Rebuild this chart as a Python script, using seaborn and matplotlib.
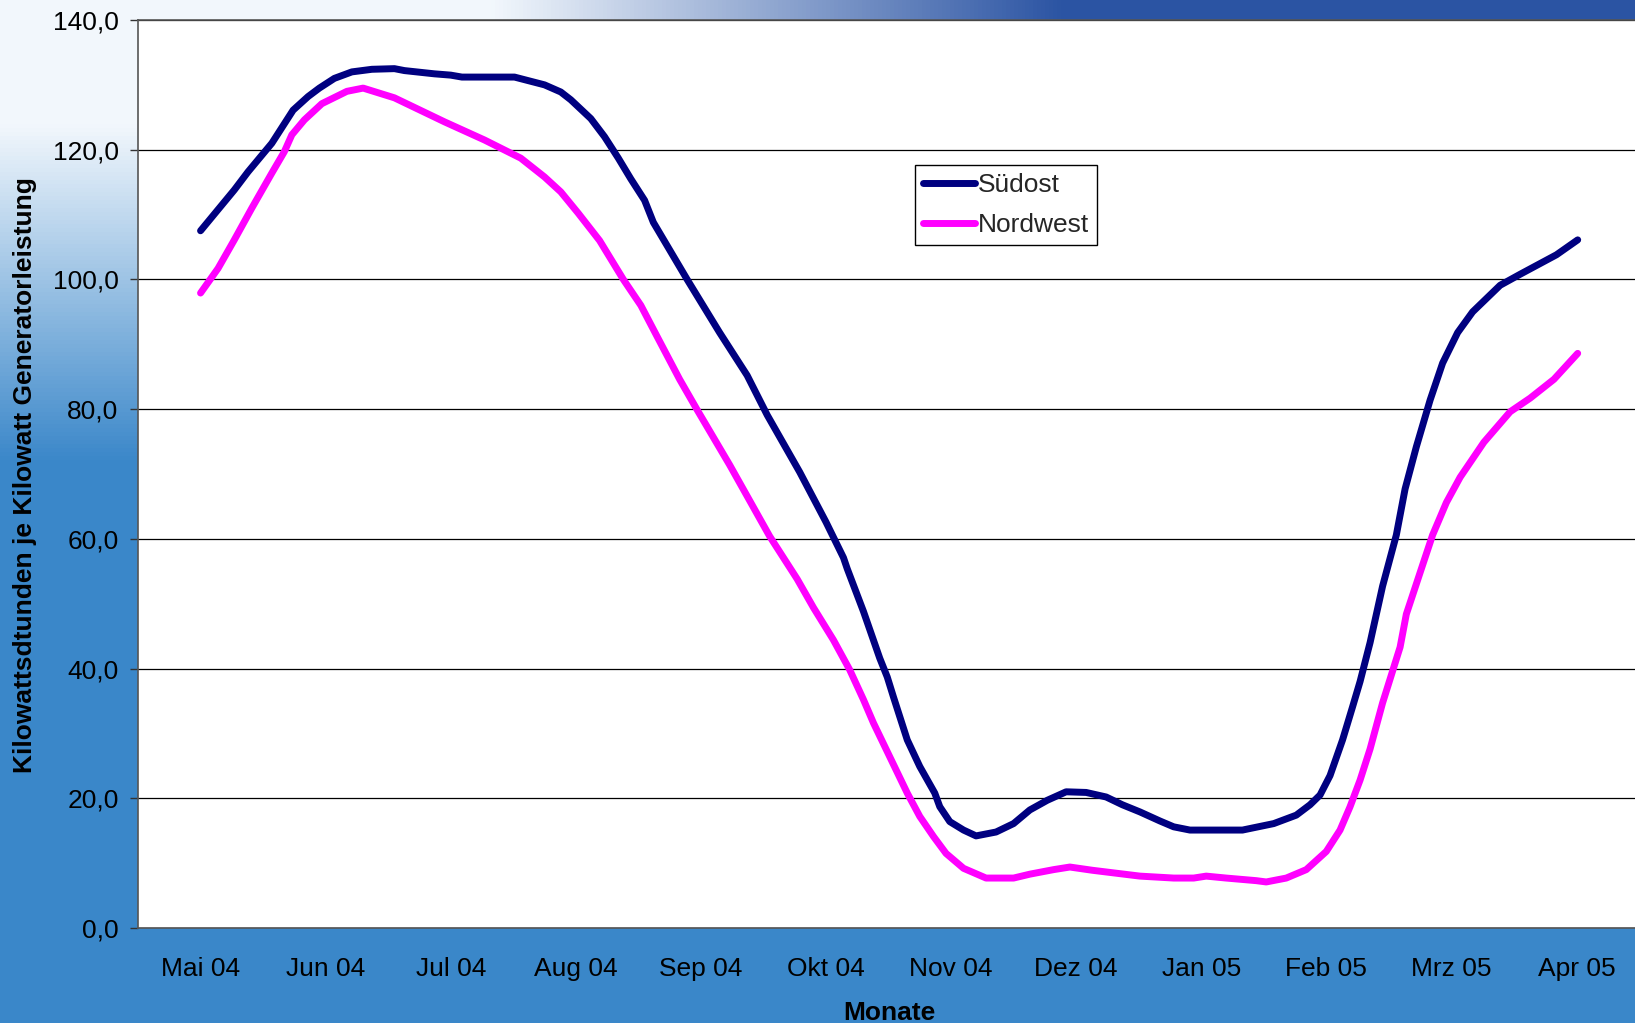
import numpy as np
import pandas as pd
import matplotlib
matplotlib.use("Agg")
import matplotlib.pyplot as plt
import seaborn as sns

# ---------------- data ----------------
monate = ["Mai 04", "Jun 04", "Jul 04", "Aug 04", "Sep 04", "Okt 04",
          "Nov 04", "Dez 04", "Jan 05", "Feb 05", "Mrz 05", "Apr 05"]

# position in months (0 = Mai 04 centre)
suedost_x = [0.0, 0.27, 0.38, 0.57, 0.74, 0.86, 0.95, 1.07, 1.21, 1.37, 1.55, 1.63,
             1.87, 2.0, 2.09, 2.51, 2.75, 2.88, 2.96, 3.12, 3.23, 3.34, 3.44, 3.55,
             3.62, 3.89, 4.15, 4.37, 4.53, 4.79, 5.0, 5.14, 5.17, 5.30, 5.43, 5.49,
             5.54, 5.65, 5.75, 5.87, 5.91, 5.99, 6.1, 6.2, 6.36, 6.5, 6.63, 6.77,
             6.92, 7.08, 7.24, 7.37, 7.51, 7.67, 7.78, 7.91, 8.33, 8.58, 8.76, 8.87,
             8.95, 9.03, 9.13, 9.21, 9.27, 9.35, 9.45, 9.56, 9.63, 9.72, 9.83, 9.93,
             10.05, 10.17, 10.39, 10.55, 10.84, 11.01]
suedost_y = [107.5, 113.8, 116.6, 121.0, 126.1, 128.2, 129.5, 131.0, 132.0, 132.4, 132.5, 132.2,
             131.7, 131.5, 131.2, 131.2, 130.0, 128.9, 127.7, 124.8, 122.0, 118.7, 115.5, 112.2,
             108.8, 100.0, 91.8, 85.2, 79.1, 70.3, 62.6, 57.1, 55.4, 48.8, 41.6, 38.7,
             35.6, 29.0, 24.9, 20.8, 18.7, 16.4, 15.1, 14.2, 14.8, 16.1, 18.2, 19.7,
             21.0, 20.9, 20.2, 19.0, 17.9, 16.5, 15.6, 15.1, 15.1, 16.1, 17.4, 19.0,
             20.5, 23.5, 29.0, 34.1, 38.0, 44.0, 52.7, 60.6, 67.7, 74.2, 81.4, 87.1,
             91.8, 95.0, 99.1, 100.8, 103.8, 106.1]

nordwest_x = [0.0, 0.14, 0.27, 0.41, 0.57, 0.67, 0.73, 0.83, 0.97, 1.17, 1.3, 1.55,
              1.95, 2.27, 2.56, 2.75, 2.88, 3.02, 3.19, 3.38, 3.52, 3.65, 3.83, 3.97,
              4.23, 4.55, 4.77, 4.9, 5.06, 5.19, 5.3, 5.38, 5.51, 5.65, 5.75, 5.86,
              5.96, 6.1, 6.28, 6.5, 6.63, 6.82, 6.95, 7.13, 7.51, 7.78, 7.94, 8.04,
              8.2, 8.44, 8.52, 8.68, 8.84, 9.0, 9.11, 9.19, 9.27, 9.35, 9.45, 9.59,
              9.64, 9.75, 9.85, 9.96, 10.07, 10.26, 10.47, 10.63, 10.82, 11.01]
nordwest_y = [97.9, 101.7, 106.1, 111.0, 116.4, 119.7, 122.3, 124.6, 127.1, 129.0, 129.5, 128.0,
              124.3, 121.5, 118.7, 115.8, 113.5, 110.2, 106.0, 100.0, 96.0, 91.2, 84.6, 79.9,
              71.4, 60.4, 53.8, 49.4, 44.4, 39.8, 35.2, 31.6, 26.4, 20.8, 17.2, 14.1,
              11.5, 9.2, 7.7, 7.7, 8.3, 9.0, 9.4, 8.9, 8.0, 7.7, 7.7, 8.0,
              7.7, 7.3, 7.1, 7.7, 9.0, 11.8, 15.1, 18.7, 22.8, 27.6, 34.7, 43.3,
              48.4, 54.8, 60.6, 65.6, 69.5, 74.9, 79.6, 81.7, 84.6, 88.6]

reihen = ["Südost", "Nordwest"]
farben = ["#000080", "#FF00FF"]
y_ticks = [0, 20, 40, 60, 80, 100, 120, 140]
y_label = "Kilowattsdtunden je Kilowatt Generatorleistung"
x_label = "Monate"

df = pd.concat([
    pd.DataFrame({"Monat": suedost_x, "Wert": suedost_y, "Reihe": reihen[0]}),
    pd.DataFrame({"Monat": nordwest_x, "Wert": nordwest_y, "Reihe": reihen[1]}),
], ignore_index=True)

# ---------------- style ----------------
sns.set_style("white")
plt.rcParams["font.family"] = ["Liberation Sans", "DejaVu Sans"]
FS = 19

W_PX, H_PX = 1635, 1023
fig = plt.figure(figsize=(W_PX / 100, H_PX / 100), dpi=100)

# slide-like background gradient
bg = fig.add_axes([0, 0, 1, 1], zorder=0)
h, w = 256, 410
u = np.linspace(0, 1, w)[None, :, None]
v = np.linspace(0, 1, h)[:, None, None]
L = np.array([0.95, 0.97, 0.99])
D = np.array([0.17, 0.33, 0.64])
B = np.array([0.23, 0.53, 0.79])
a = np.clip((u - 0.30) / 0.35, 0, 1)
top = L * (1 - a) + D * a
s = np.clip((v - 0.12) / 0.33, 0, 1)
img = top * (1 - s) + B * s
bg.imshow(img, extent=[0, 1, 0, 1], aspect="auto", origin="upper")
bg.axis("off")

ax = fig.add_axes([138 / W_PX, 95 / H_PX, 1501 / W_PX, 908 / H_PX], zorder=1)
ax.set_facecolor("white")

sns.lineplot(data=df, x="Monat", y="Wert", hue="Reihe", hue_order=reihen,
             palette=dict(zip(reihen, farben)), estimator=None, sort=False,
             linewidth=5.0, legend=False, ax=ax)
for ln in ax.lines:
    ln.set_solid_capstyle("round")
    ln.set_solid_joinstyle("round")

ax.set_xlim(-0.5, 11.5)
ax.set_ylim(0, 140)
ax.set_yticks(y_ticks)
ax.set_yticklabels([f"{t:.1f}".replace(".", ",") for t in y_ticks], fontsize=FS)
ax.set_xticks(np.arange(-0.5, 12, 1))
ax.set_xticklabels([])
ax.set_xticks(np.arange(12), minor=True)
ax.set_xticklabels(monate, minor=True, fontsize=FS)
ax.tick_params(axis="x", which="major", length=6, width=1, color="#333333", direction="out")
ax.tick_params(axis="x", which="minor", length=0, pad=21, labelcolor="black")
ax.tick_params(axis="y", which="major", length=6, width=1, color="#333333", direction="out",
               pad=8, labelcolor="black", left=True)
ax.set_xlabel("")
ax.set_ylabel("")

ax.yaxis.grid(True, color="black", linewidth=0.9)
ax.set_axisbelow(True)
for sp in ["left", "bottom", "top"]:
    ax.spines[sp].set_color("#555555")
    ax.spines[sp].set_linewidth(1.2)
ax.spines["right"].set_visible(False)

fig.text(25 / W_PX, 1 - 475 / H_PX, y_label, rotation=90, ha="center", va="center",
         fontsize=FS, fontweight="bold", color="black")
fig.text(889 / W_PX, 1 - 1013 / H_PX, x_label, ha="center", va="center",
         fontsize=FS, fontweight="bold", color="black")

leg = ax.legend(handles=list(ax.lines), labels=reihen, loc="upper left",
                bbox_to_anchor=(915 / W_PX, 1 - 165 / H_PX), bbox_transform=fig.transFigure,
                borderaxespad=0, fontsize=FS, frameon=True, fancybox=False,
                handlelength=1.95, handletextpad=0.12, labelspacing=0.6, borderpad=0.31)
leg.get_frame().set_edgecolor("black")
leg.get_frame().set_linewidth(1.0)
leg.get_frame().set_facecolor("white")
leg.get_frame().set_alpha(1)

fig.savefig("out.png", dpi=100)
